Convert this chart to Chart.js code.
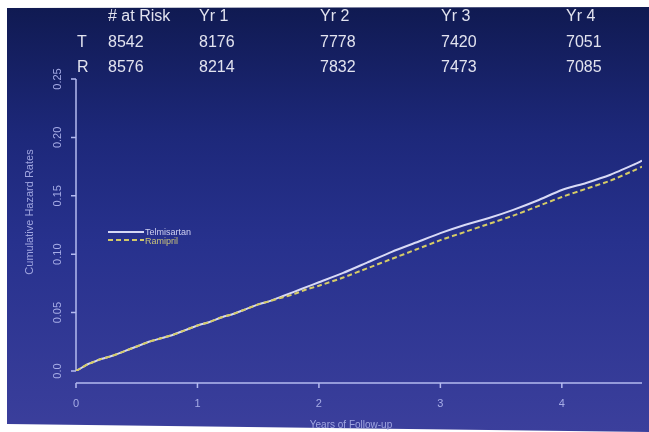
<!DOCTYPE html>
<html>
<head>
<meta charset="utf-8">
<script src="https://cdn.jsdelivr.net/npm/chart.js@4.4.1/dist/chart.umd.min.js"></script>
<style>
html,body{margin:0;padding:0;background:#fff;}
#wrap{width:649px;height:432px;position:relative;}
</style>
</head>
<body>
<div id="wrap"><canvas id="c" width="649" height="432"></canvas></div>
<script>
// ---- data ----
const years = [0,0.05,0.1,0.15,0.2,0.3,0.4,0.5,0.6,0.7,0.8,0.9,1.0,1.1,1.2,1.3,1.4,1.5,1.6,1.7,1.8,1.9,2.0,2.2,2.4,2.6,2.8,3.0,3.2,3.4,3.6,3.8,4.0,4.2,4.4,4.6,4.66];
const telmisartan = [0,0.003,0.006,0.008,0.010,0.013,0.017,0.021,0.025,0.028,0.031,0.035,0.039,0.042,0.046,0.049,0.053,0.057,0.060,0.064,0.068,0.072,0.076,0.084,0.093,0.102,0.110,0.118,0.125,0.131,0.138,0.146,0.155,0.161,0.168,0.177,0.180];
const ramipril    = [0,0.003,0.006,0.008,0.010,0.013,0.017,0.021,0.025,0.028,0.031,0.035,0.039,0.042,0.046,0.049,0.053,0.057,0.060,0.063,0.066,0.070,0.073,0.080,0.088,0.096,0.104,0.112,0.119,0.126,0.133,0.141,0.149,0.156,0.163,0.172,0.175];
const seriesNames = ['Telmisartan','Ramipril'];
const xTickValues = [0,1,2,3,4];
const xTickLabels = ['0','1','2','3','4'];
const yTickValues = [0,0.05,0.10,0.15,0.20,0.25];
const yTickLabels = ['0.0','0.05','0.10','0.15','0.20','0.25'];
const riskHeader = ['# at Risk','Yr 1','Yr 2','Yr 3','Yr 4'];
const riskRowLabels = ['T','R'];
const riskT = ['8542','8176','7778','7420','7051'];
const riskR = ['8576','8214','7832','7473','7085'];
const xTitle = 'Years of Follow-up';
const yTitle = 'Cumulative Hazard Rates';

const toPts = (xs, ys) => xs.map((x,i)=>({x:x, y:ys[i]}));

const bgPlugin = {
  id:'bg',
  beforeDraw(chart){
    const ctx = chart.ctx;
    ctx.save();
    ctx.fillStyle = '#ffffff';
    ctx.fillRect(0,0,chart.width,chart.height);
    const g = ctx.createLinearGradient(0,8,0,432);
    g.addColorStop(0,'#101a52');
    g.addColorStop(0.3,'#1d287a');
    g.addColorStop(0.55,'#27318d');
    g.addColorStop(1,'#3b3f9c');
    ctx.fillStyle = g;
    ctx.beginPath();
    ctx.moveTo(7,8); ctx.lineTo(649,7); ctx.lineTo(649,432); ctx.lineTo(7,424); ctx.closePath();
    ctx.fill();
    ctx.restore();
  }
};

const axesPlugin = {
  id:'axes',
  beforeDatasetsDraw(chart){
    const ctx = chart.ctx, xs = chart.scales.x, ys = chart.scales.y;
    const ca = chart.chartArea;
    ctx.save();
    ctx.strokeStyle = '#b4baf0';
    ctx.lineWidth = 1.5;
    // y axis
    const yx = xs.getPixelForValue(0);
    ctx.beginPath();
    ctx.moveTo(yx, ys.getPixelForValue(yTickValues[0]));
    ctx.lineTo(yx, ys.getPixelForValue(yTickValues[yTickValues.length-1]));
    yTickValues.forEach(v=>{ const p=ys.getPixelForValue(v); ctx.moveTo(yx,p); ctx.lineTo(yx-5,p); });
    ctx.stroke();
    // x axis (offset below plot)
    const xy = ca.bottom + 12;
    ctx.beginPath();
    ctx.moveTo(xs.getPixelForValue(0), xy);
    ctx.lineTo(ca.right, xy);
    xTickValues.forEach(v=>{ const p=xs.getPixelForValue(v); ctx.moveTo(p,xy); ctx.lineTo(p,xy+5); });
    ctx.stroke();
    // tick labels
    ctx.fillStyle = '#a6ace6';
    ctx.font = '11px "Liberation Sans", Arial, sans-serif';
    ctx.textAlign='center'; ctx.textBaseline='middle';
    xTickValues.forEach((v,i)=>{ ctx.fillText(xTickLabels[i], xs.getPixelForValue(v), xy+21); });
    yTickValues.forEach((v,i)=>{
      ctx.save(); ctx.translate(58, ys.getPixelForValue(v)); ctx.rotate(-Math.PI/2);
      ctx.fillText(yTickLabels[i],0,0); ctx.restore();
    });
    // titles
    ctx.font = '10px "Liberation Sans", Arial, sans-serif';
    ctx.fillStyle = '#a0a6e0';
    ctx.fillText(xTitle, 351, 425);
    ctx.save(); ctx.translate(30, 212); ctx.rotate(-Math.PI/2);
    ctx.font = '11px "Liberation Sans", Arial, sans-serif';
    ctx.fillText(yTitle,0,0); ctx.restore();
    // legend
    ctx.lineWidth = 2;
    ctx.strokeStyle = '#d6d8f6';
    ctx.beginPath(); ctx.moveTo(108,232); ctx.lineTo(144,232); ctx.stroke();
    ctx.strokeStyle = '#d2c86a';
    ctx.setLineDash([5,3]);
    ctx.beginPath(); ctx.moveTo(108,240); ctx.lineTo(144,240); ctx.stroke();
    ctx.setLineDash([]);
    ctx.font = '9px "Liberation Sans", Arial, sans-serif';
    ctx.textAlign='left';
    ctx.fillStyle = '#cfd0f0';
    ctx.fillText(seriesNames[0], 145, 233);
    ctx.fillStyle = '#c8c27a';
    ctx.fillText(seriesNames[1], 145, 242);
    // risk table
    ctx.font = '16px "Liberation Sans", Arial, sans-serif';
    ctx.fillStyle = '#e2e3ef';
    const cols = [108,199,320,441,566];
    riskHeader.forEach((t,i)=>ctx.fillText(t, cols[i], 17));
    ctx.fillText(riskRowLabels[0], 77, 43);
    ctx.fillText(riskRowLabels[1], 77, 68);
    riskT.forEach((t,i)=>ctx.fillText(t, cols[i], 43));
    riskR.forEach((t,i)=>ctx.fillText(t, cols[i], 68));
    ctx.restore();
  }
};

new Chart(document.getElementById('c'), {
  type:'line',
  data:{
    datasets:[
      {label:seriesNames[1], data:toPts(years, ramipril), borderColor:'#d6cc66', borderWidth:2, borderDash:[5,3], pointRadius:0, tension:0.2, order:0},
      {label:seriesNames[0], data:toPts(years, telmisartan), borderColor:'#d8daf6', borderWidth:2, pointRadius:0, tension:0.2, order:1}
    ]
  },
  options:{
    responsive:false,
    animation:false,
    devicePixelRatio:1,
    layout:{padding:{left:76,top:79,right:7,bottom:61}},
    plugins:{legend:{display:false}, tooltip:{enabled:false}},
    scales:{
      x:{type:'linear', min:0, max:4.66, display:false},
      y:{type:'linear', min:0, max:0.25, display:false}
    }
  },
  plugins:[bgPlugin, axesPlugin]
});
</script>
</body>
</html>
